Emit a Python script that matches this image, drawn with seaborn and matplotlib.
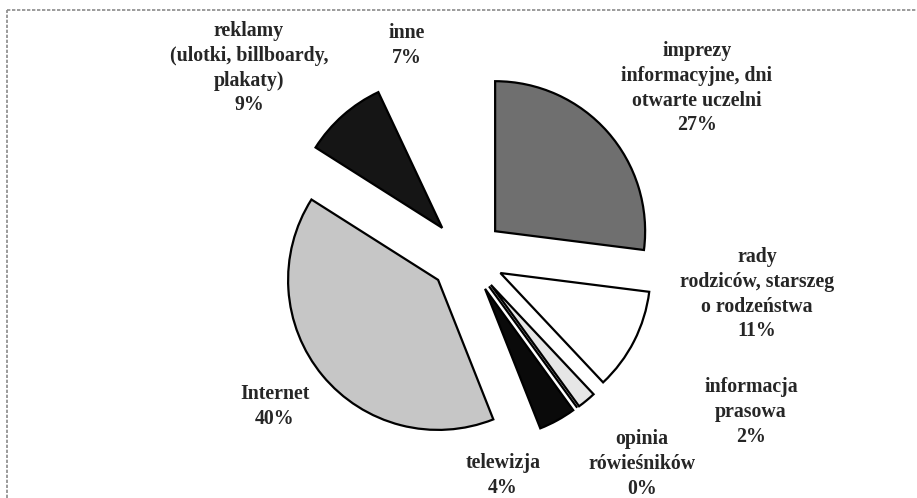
import numpy as np
import matplotlib
matplotlib.use("Agg")
import matplotlib.pyplot as plt
import seaborn as sns

# data, clockwise from 12 o'clock
categories = ["imprezy\ninformacyjne, dni\notwarte uczelni",
              "rady\nrodziców, starszeg\no rodzeństwa",
              "informacja\nprasowa",
              "opinia\nrówieśników",
              "telewizja",
              "Internet",
              "reklamy\n(ulotki, billboardy,\nplakaty)",
              "inne"]
shares = [27, 11, 2, 0, 4, 40, 9, 7]
colors = ["#6f6f6f", "#ffffff", "#e6e6e6", "#ffffff", "#0a0a0a", "#c6c6c6", "#151515", "#ffffff"]
edges = [1, 1, 1, 1, 1, 1, 1, 0]

# label centres in pixels (x, y of first line)
label_pos = [(697, 49), (757, 255), (751, 385), (642, 437), (503, 461), (275, 392), (249, 29), (407, 31)]

sns.set_style("white")
plt.rcParams["font.family"] = ["Liberation Serif", "DejaVu Serif"]

W, H = 917, 498
cx, cy, R = 467, 256, 150

fig = plt.figure(figsize=(W / 100, H / 100), dpi=100)
ax = fig.add_axes([0, 0, 1, 1])

wedges, _ = ax.pie(shares, colors=colors, startangle=90, counterclock=False,
                   explode=[0.25] * len(shares), radius=1,
                   wedgeprops=dict(linewidth=1.6, edgecolor="black"))
for w, e in zip(wedges, edges):
    if not e:
        w.set_linewidth(0)
ax.set_aspect("auto")
ax.set_xlim(-cx / R, (W - cx) / R)
ax.set_ylim(-(H - cy) / R, cy / R)
ax.axis("off")

for name, val, (px, py) in zip(categories, shares, label_pos):
    fig.text(px / W, 1 - (py - 8) / H, f"{name}\n{val}%", ha="center", va="top",
             fontsize=14.3, fontweight="bold", linespacing=1.32)

# scanned frame: only top and left edges show
frame = dict(transform=fig.transFigure, color="#8a8a8a", linewidth=1.2, linestyle=(0, (2, 1)))
fig.add_artist(plt.Line2D([7 / W, 1], [1 - 10 / H, 1 - 10 / H], **frame))
fig.add_artist(plt.Line2D([7 / W, 7 / W], [0, 1 - 10 / H], **frame))

fig.savefig("out.png", dpi=100)
